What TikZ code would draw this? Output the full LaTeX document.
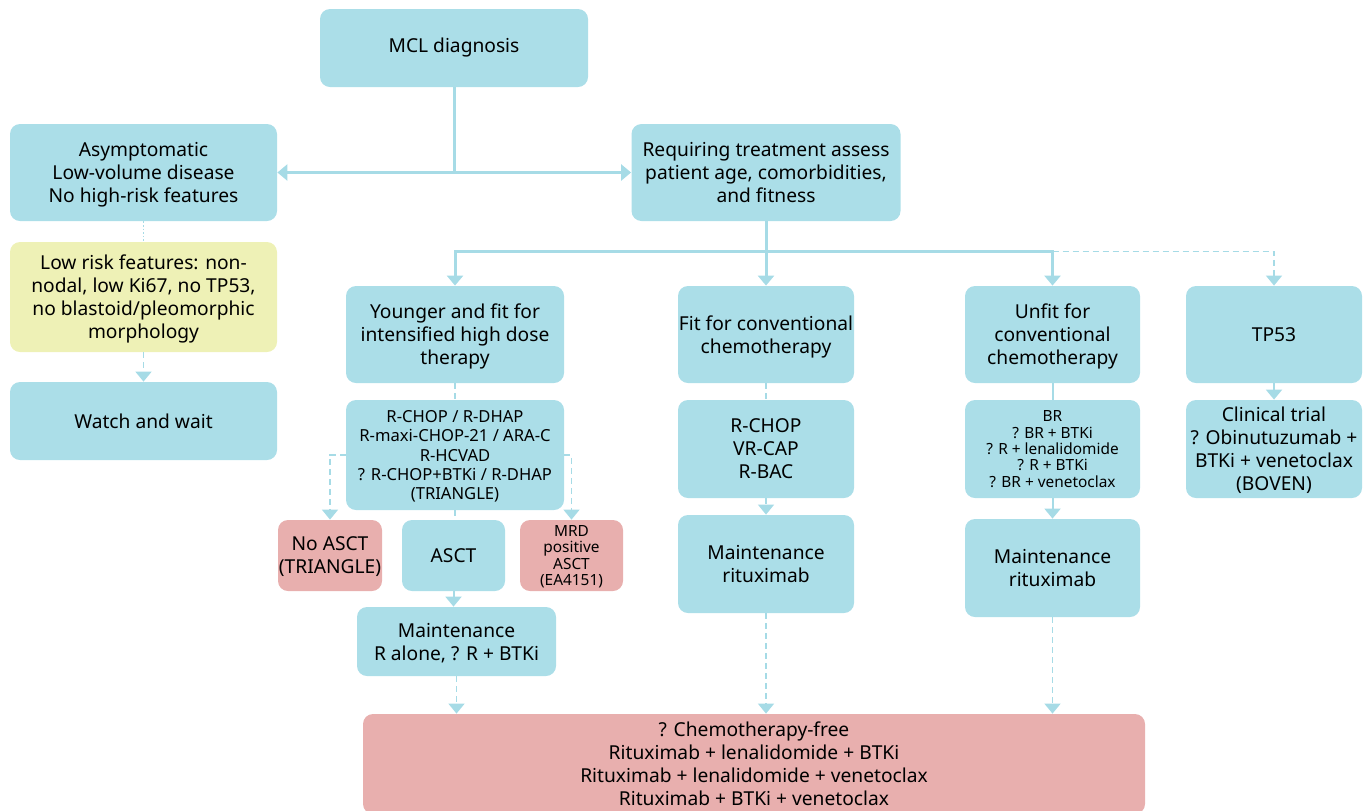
\documentclass[tikz,border=0pt]{standalone}
\usepackage{fontspec}
\setmainfont{Noto Sans}
\usepackage{xcolor}
\usetikzlibrary{calc, arrows.meta}

\definecolor{mcl_blue}{HTML}{ABDEE8}
\definecolor{mcl_red}{HTML}{E8AFAE}
\definecolor{mcl_yellow}{HTML}{EEF1B6}
\definecolor{mcl_line}{HTML}{A6DBE6}

\begin{document}
\begin{tikzpicture}[x = 0.5pt, y = -0.5pt,
        box/.style = {fill = mcl_blue, rounded corners = 5pt, align = center, inner sep = 0pt, font = \fontsize{9.6}{11.5}\selectfont},
        box_red/.style = {box, fill = mcl_red},
        box_yellow/.style = {box, fill = mcl_yellow},
        multi/.style = {text depth = 0pt, execute at begin node = {\rule{0pt}{1.1em}}},
        dims/.style 2 args = {minimum width = #1 * 0.5pt, minimum height = #2 * 0.5pt},
        text_small/.style = {font = \fontsize{8.3}{9.6}\selectfont},
        text_tiny/.style = {font = \fontsize{7.7}{8.2}\selectfont},
        link/.style = {draw = mcl_line, line width = 1.5pt},
        link_thin/.style = {draw = mcl_line, line width = 1pt},
        link_dash/.style = {draw = mcl_line, line width = 0.8pt, dash pattern = on 3pt off 2pt},
        link_dot/.style = {draw = mcl_line, line width = 0.6pt, dash pattern = on 0.8pt off 1pt},
        arrow_head/.style = {-{Triangle[width = 8pt, length = 5pt]}}]

    \useasboundingbox (0, 0) rectangle (1368, 810);

    \node[box, dims = {268}{78}] (diag) at (454, 48) {MCL diagnosis};
    \node[box, multi, dims = {267}{97}] (asym) at (143.5, 172.5) {Asymptomatic\\Low-volume disease\\No high-risk features};
    \node[box, multi, dims = {269}{97}] (req) at (766, 172.5) {Requiring treatment assess\\patient age, comorbidities,\\and fitness};
    \node[box_yellow, multi, dims = {267}{110}] (low_risk) at (143.5, 297) {Low risk features: non-\\nodal, low Ki67, no TP53,\\no blastoid/pleomorphic\\morphology};
    \node[box, dims = {267}{78}] (watch) at (143.5, 421) {Watch and wait};

    \node[box, multi, dims = {218}{97}] (young) at (455, 334.5) {Younger and fit for\\intensified high dose\\therapy};
    \node[box, multi, dims = {176}{97}] (fit_conv) at (766, 334.5) {Fit for conventional\\chemotherapy};
    \node[box, multi, dims = {175}{97}] (unfit) at (1052.5, 334.5) {Unfit for\\conventional\\chemotherapy};
    \node[box, dims = {176}{97}] (tp53) at (1274, 334.5) {TP53};

    \node[box, multi, text_small, dims = {218}{110}] (young_regimen) at (455, 455) {R-CHOP / R-DHAP\\R-maxi-CHOP-21 / ARA-C\\R-HCVAD\\? R-CHOP+BTKi / R-DHAP\\(TRIANGLE)};
    \node[box, multi, dims = {176}{98}] (fit_regimen) at (766, 449) {R-CHOP\\VR-CAP\\R-BAC};
    \node[box, multi, text_tiny, dims = {175}{98}] (unfit_regimen) at (1052.5, 449) {BR\\? BR + BTKi\\? R + lenalidomide\\? R + BTKi\\? BR + venetoclax};
    \node[box, multi, dims = {176}{98}] (trial) at (1274, 449) {Clinical trial\\? Obinutuzumab +\\BTKi + venetoclax\\(BOVEN)};

    \node[box_red, multi, dims = {104}{71}] (no_asct) at (330, 555.5) {No ASCT\\(TRIANGLE)};
    \node[box, dims = {103}{71}] (asct) at (453.5, 555.5) {ASCT};
    \node[box_red, multi, text_tiny, dims = {103}{71}] (mrd) at (571.5, 555.5) {MRD\\positive\\ASCT\\(EA4151)};
    \node[box, multi, dims = {199}{69}] (maint_young) at (456.5, 641.5) {Maintenance\\R alone, ? R + BTKi};
    \node[box, multi, dims = {176}{98}] (maint_fit) at (766, 564) {Maintenance\\rituximab};
    \node[box, multi, dims = {175}{98}] (maint_unfit) at (1052.5, 568) {Maintenance\\rituximab};

    \node[box_red, dims = {782}{100}] (chemo_free) at (754, 764) {? Chemotherapy-free\\Rituximab + lenalidomide + BTKi\\Rituximab + lenalidomide + venetoclax\\Rituximab + BTKi + venetoclax};

    \coordinate (split) at ($(req.south) + (0, 30)$);

    \draw[link, arrow_head] (diag.south) |- (asym.east);
    \draw[link, arrow_head] (diag.south) |- (req.west);
    \draw[link_dot] (asym.south) -- (low_risk.north);
    \draw[link_dash, arrow_head] (low_risk.south) -- (watch.north);

    \draw[link] (req.south) -- (split);
    \draw[link, arrow_head] (split) -| (young.north);
    \draw[link, arrow_head] (split) -- (fit_conv.north);
    \draw[link, arrow_head] (split) -| (unfit.north);
    \draw[link_dash, arrow_head] (split -| unfit.north) -| (tp53.north);

    \draw[link_dash] (young.south) -- (young_regimen.north);
    \draw[link_dash, arrow_head] (young_regimen.west) -| (no_asct.north);
    \draw[link_dash] (young_regimen.south) -- (young_regimen.south |- asct.north);
    \draw[link_dash, arrow_head] (young_regimen.east) -| (mrd.north);
    \draw[link_thin, arrow_head] (asct.south) -- (asct.south |- maint_young.north);
    \draw[link_dash, arrow_head] (maint_young.south) -- (maint_young.south |- chemo_free.north);

    \draw[link_dash] (fit_conv.south) -- (fit_regimen.north);
    \draw[link_dash, arrow_head] (fit_regimen.south) -- (maint_fit.north);
    \draw[link_dash, arrow_head] (maint_fit.south) -- (maint_fit.south |- chemo_free.north);

    \draw[link_thin] (unfit.south) -- (unfit_regimen.north);
    \draw[link_thin, arrow_head] (unfit_regimen.south) -- (maint_unfit.north);
    \draw[link_dash, arrow_head] (maint_unfit.south) -- (maint_unfit.south |- chemo_free.north);

    \draw[link_thin, arrow_head] (tp53.south) -- (trial.north);
\end{tikzpicture}
\end{document}
